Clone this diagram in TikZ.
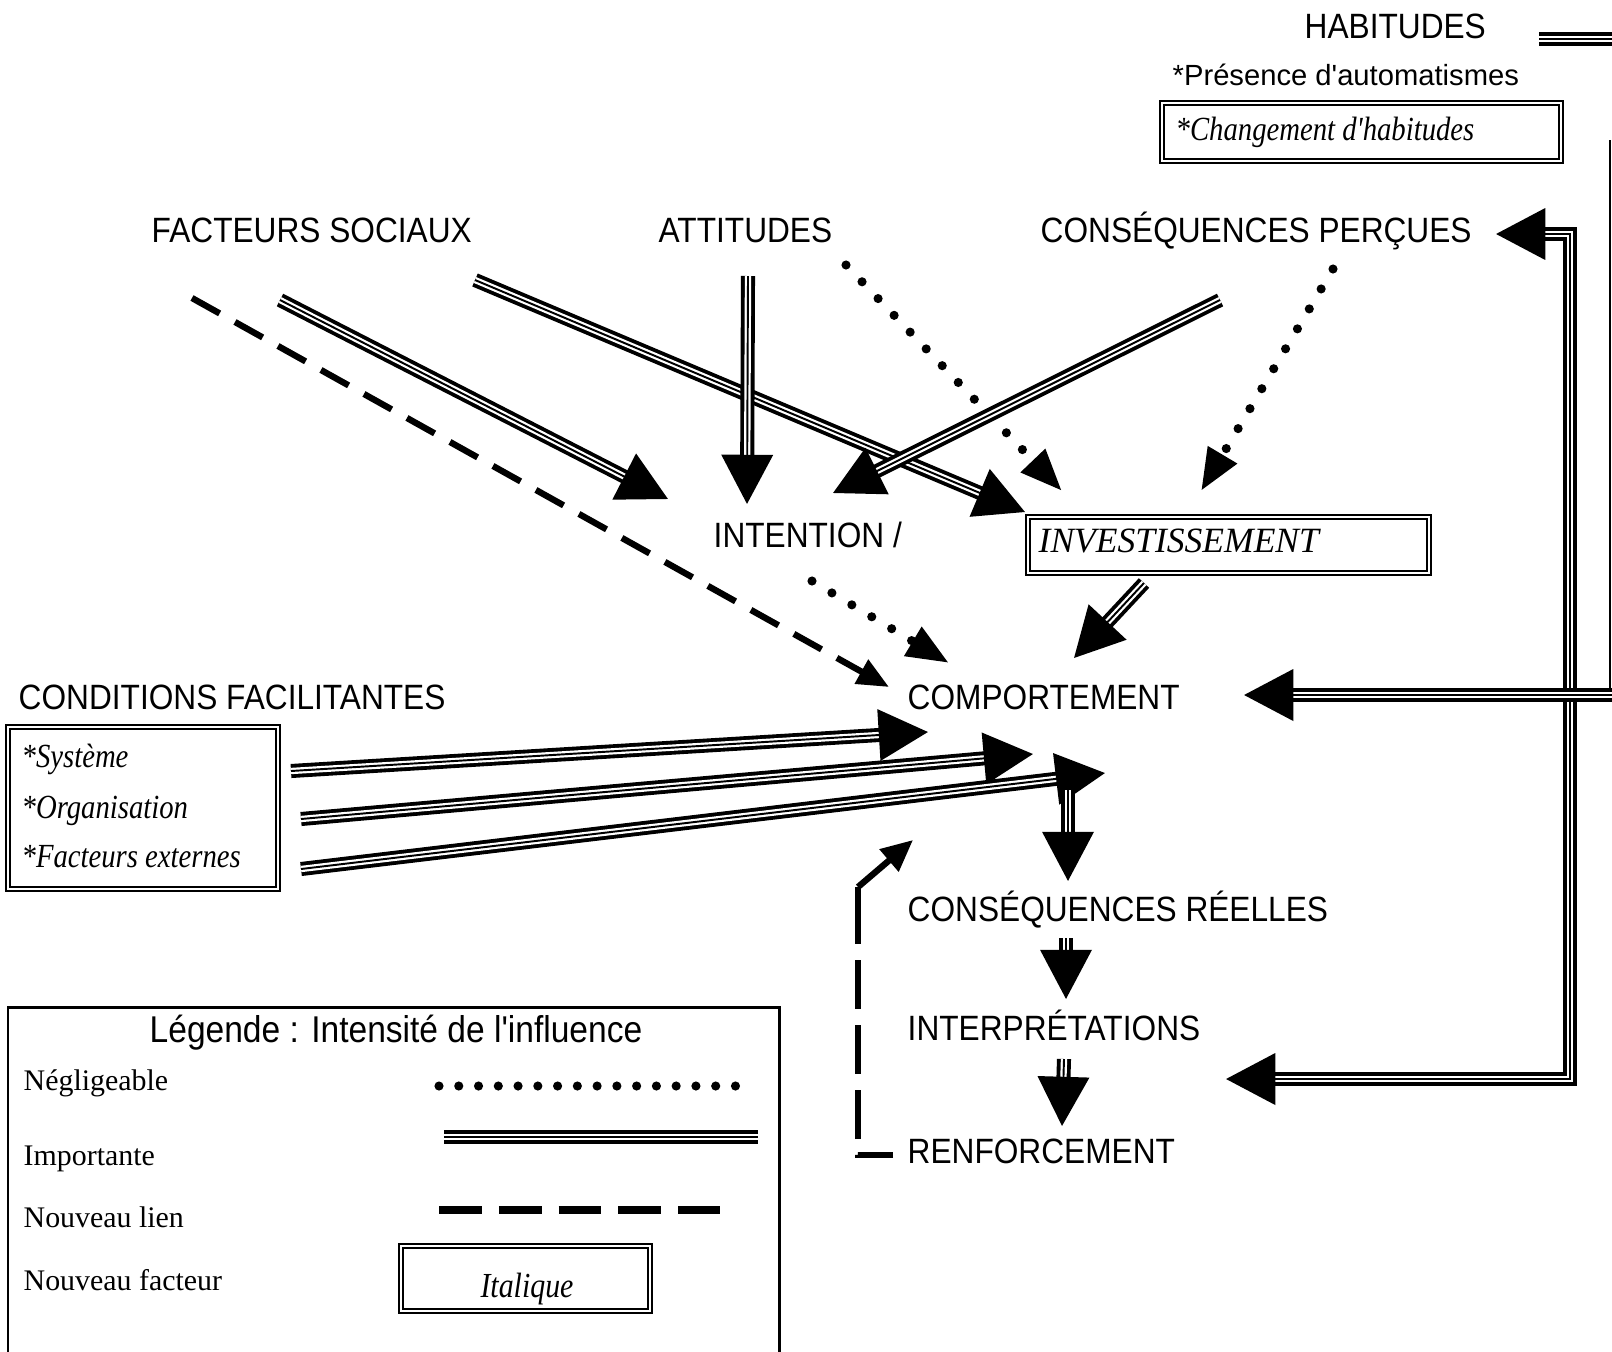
\documentclass[tikz,border=0pt]{standalone}
\usepackage{fontspec}
\setmainfont{Liberation Serif}
\newfontfamily\comicfont[FakeStretch=0.9]{Liberation Sans}
\newfontfamily\arialfont{Liberation Sans}
\newfontfamily\narrowserif[FakeStretch=0.85]{Liberation Serif}
\usetikzlibrary{arrows.meta}

\tikzset{
  % strong influence: triple line (outer pair + thin centre line)
  imp/.style={line width=1.1pt, double=white, double distance=1.8pt},
  impmid/.style={line width=0.55pt},
  bigtip/.style={-{Triangle[length=14pt,width=14.5pt]}},
  bothtips/.style={{Triangle[length=14pt,width=14.5pt]}-{Triangle[length=14pt,width=14.5pt]}},
  % weak influence: round dots
  weak/.style={line width=2.6pt, line cap=round, dash pattern=on 0pt off 6.6pt,
    -{Triangle[length=12pt,width=9pt]}},
  % new link: dashes
  newlink/.style={line width=1.8pt, dash pattern=on 9pt off 5pt},
  smalltip/.style={-{Triangle[length=9pt,width=7.5pt]}},
  % labels
  lbl/.style={font=\comicfont\fontsize{10}{12}\selectfont, inner sep=0pt, anchor=base west},
  sublbl/.style={font=\arialfont\fontsize{8.3}{10}\selectfont, inner sep=0pt, anchor=base west},
  newf/.style={font=\narrowserif\itshape\fontsize{9.6}{11}\selectfont, inner sep=0pt, anchor=base west},
  keylbl/.style={font=\fontsize{8.5}{10}\selectfont, inner sep=0pt, anchor=base west},
  framebox/.style={draw, line width=0.65pt, double=white, double distance=0.6pt, inner sep=0pt},
}
\newcommand\impdraw[3]{\draw[imp,#1] #3; \draw[impmid,#2] #3;}

\begin{document}
\begin{tikzpicture}[x=0.01cm, y=-0.01cm]
\useasboundingbox (0,0) rectangle (1612,1351);

% ---------- habits (top right) ----------
\node[lbl] (hab) at (1304,38) {HABITUDES};
\coordinate (habA) at (1539,39);
\coordinate (habB) at (1614,39);
\impdraw{}{}{(habA) -- (habB)}
\node[sublbl] (auto) at (1172,85) {*Présence d'automatismes};
\node[framebox, minimum width=3.99cm, minimum height=0.58cm] (chgbox) at (1361.5,132) {};
\node[newf] (chg) at (1175,140) {*Changement d'habitudes};

% ---------- upper factors ----------
\node[lbl] (fs) at (151,242) {FACTEURS SOCIAUX};
\node[lbl] (att) at (658,242) {ATTITUDES};
\node[lbl] (cp) at (1040,242) {CONSÉQUENCES PERÇUES};

% ---------- intention / investment ----------
\node[lbl] (int) at (713,547) {INTENTION /};
\node[framebox, minimum width=4.01cm, minimum height=0.56cm] (invbox) at (1228.5,545) {};
\node[font=\itshape\fontsize{10.1}{12}\selectfont, inner sep=0pt, anchor=base west] (inv) at (1038,552) {INVESTISSEMENT};

% ---------- behaviour chain ----------
\node[lbl] (comp) at (907,709) {COMPORTEMENT};
\node[lbl] (cr) at (907,921) {CONSÉQUENCES RÉELLES};
\node[lbl] (interp) at (907,1040) {INTERPRÉTATIONS};
\node[lbl] (ren) at (907,1163) {RENFORCEMENT};

% ---------- facilitating conditions ----------
\node[lbl] (cond) at (18,709) {CONDITIONS FACILITANTES};
\node[framebox, minimum width=2.70cm, minimum height=1.62cm] (condbox) at (143,808) {};
\node[newf] (sys) at (21,767) {*Système};
\node[newf] (org) at (21,818) {*Organisation};
\node[newf] (ext) at (21,867) {*Facteurs externes};

% ---------- connector end points ----------
\coordinate (fsD) at (192,298);   \coordinate (compD) at (889,687);
\coordinate (fsI) at (280,300);   \coordinate (intF) at (668,499);
\coordinate (fsV) at (475,280);   \coordinate (invF) at (1025,512);
\coordinate (attI) at (748,276);  \coordinate (intA) at (747,504);
\coordinate (attV) at (846,265);  \coordinate (invA) at (1062,491);
\coordinate (cpI) at (1220,300);  \coordinate (intC) at (833,493);
\coordinate (cpV) at (1333,269);  \coordinate (invC) at (1201,491);
\coordinate (intO) at (812,581);  \coordinate (compI) at (949,663);
\coordinate (invO) at (1144,583); \coordinate (compV) at (1074,658);
\coordinate (sysO) at (291,771);  \coordinate (compS) at (928,732);
\coordinate (orgO) at (301,819);  \coordinate (compO) at (1033,754);
\coordinate (extO) at (301,869);  \coordinate (compE) at (1105,773);
\coordinate (compC) at (1068,790); \coordinate (crI) at (1068,881);
\coordinate (crO) at (1066,938);  \coordinate (interpI) at (1066,999);
\coordinate (interpO) at (1064,1059); \coordinate (renI) at (1062,1126);
% feedback loop
\coordinate (fb0) at (893,1155);
\coordinate (fb1) at (858,1155);
\coordinate (fb2) at (858,887);
\coordinate (fb3) at (913,840);
% right-hand frame
\coordinate (cpR) at (1496,234);
\coordinate (rTop) at (1570,234);
\coordinate (rBot) at (1570,1079);
\coordinate (interpR) at (1226,1079);
\coordinate (edgeTop) at (1610,140);
\coordinate (edgeBot) at (1610,691);
\coordinate (edgeH) at (1614,695);
\coordinate (compR) at (1244,695);

% ---------- connectors ----------
\draw[newlink, smalltip] (fsD) -- (compD);
\impdraw{bigtip}{shorten >=13pt}{(fsI) -- (intF)}
\impdraw{bigtip}{shorten >=13pt}{(fsV) -- (invF)}
\impdraw{bigtip}{shorten >=13pt}{(attI) -- (intA)}
\draw[weak] (attV) -- (invA);
\impdraw{bigtip}{shorten >=13pt}{(cpI) -- (intC)}
\draw[weak] (cpV) -- (invC);
\draw[weak] (intO) -- (compI);
\impdraw{bigtip}{shorten >=13pt}{(invO) -- (compV)}
\impdraw{bigtip}{shorten >=13pt}{(sysO) -- (compS)}
\impdraw{bigtip}{shorten >=13pt}{(orgO) -- (compO)}
\impdraw{bigtip}{shorten >=13pt}{(extO) -- (compE)}
\impdraw{bigtip}{shorten >=13pt}{(compC) -- (crI)}
\impdraw{bigtip}{shorten >=13pt}{(crO) -- (interpI)}
\impdraw{bigtip}{shorten >=13pt}{(interpO) -- (renI)}

\draw[line width=1.8pt, dash pattern=on 10pt off 4.5pt on 14pt off 4.5pt on 14pt off 4.5pt on 14pt off 4.5pt on 30pt]
  (fb0) -- (fb1) -- (fb2);
\draw[line width=1.8pt, -{Triangle[length=9pt,width=8pt]}] (fb2) -- (fb3);

\impdraw{bothtips}{shorten <=13pt, shorten >=13pt}{(cpR) -- (rTop) -- (rBot) -- (interpR)}
\draw[line width=0.8pt] (edgeTop) -- (edgeBot);
\impdraw{bigtip}{shorten >=13pt}{(edgeH) -- (compR)}

% ---------- legend ----------
\draw[line width=0.85pt] (8,1360) -- (8,1007) -- (779,1007) -- (779,1360);
\node[font=\comicfont\fontsize{10.6}{12}\selectfont, inner sep=0pt, anchor=base] (legt) at (396,1042) {Légende : Intensité de l'influence};
\node[keylbl] (kneg) at (23,1090) {Négligeable};
\node[keylbl] (kimp) at (23,1165) {Importante};
\node[keylbl] (knew) at (23,1227) {Nouveau lien};
\node[keylbl] (kfac) at (23,1290) {Nouveau facteur};
\coordinate (dotA) at (439,1086); \coordinate (dotB) at (742,1086);
\coordinate (impA) at (444,1137); \coordinate (impB) at (758,1137);
\coordinate (dshA) at (439,1210); \coordinate (dshB) at (720,1210);
\draw[line width=2.6pt, line cap=round, dash pattern=on 0pt off 5.62pt] (dotA) -- (dotB);
\impdraw{}{}{(impA) -- (impB)}
\draw[line width=2.5pt, dash pattern=on 12.2pt off 4.8pt] (dshA) -- (dshB);
\node[framebox, minimum width=2.49cm, minimum height=0.65cm] (itbox) at (525.5,1278.5) {};
\node[font=\narrowserif\itshape\fontsize{10}{12}\selectfont, inner sep=0pt, anchor=base] (ital) at (527,1297) {Italique};
\end{tikzpicture}
\end{document}
